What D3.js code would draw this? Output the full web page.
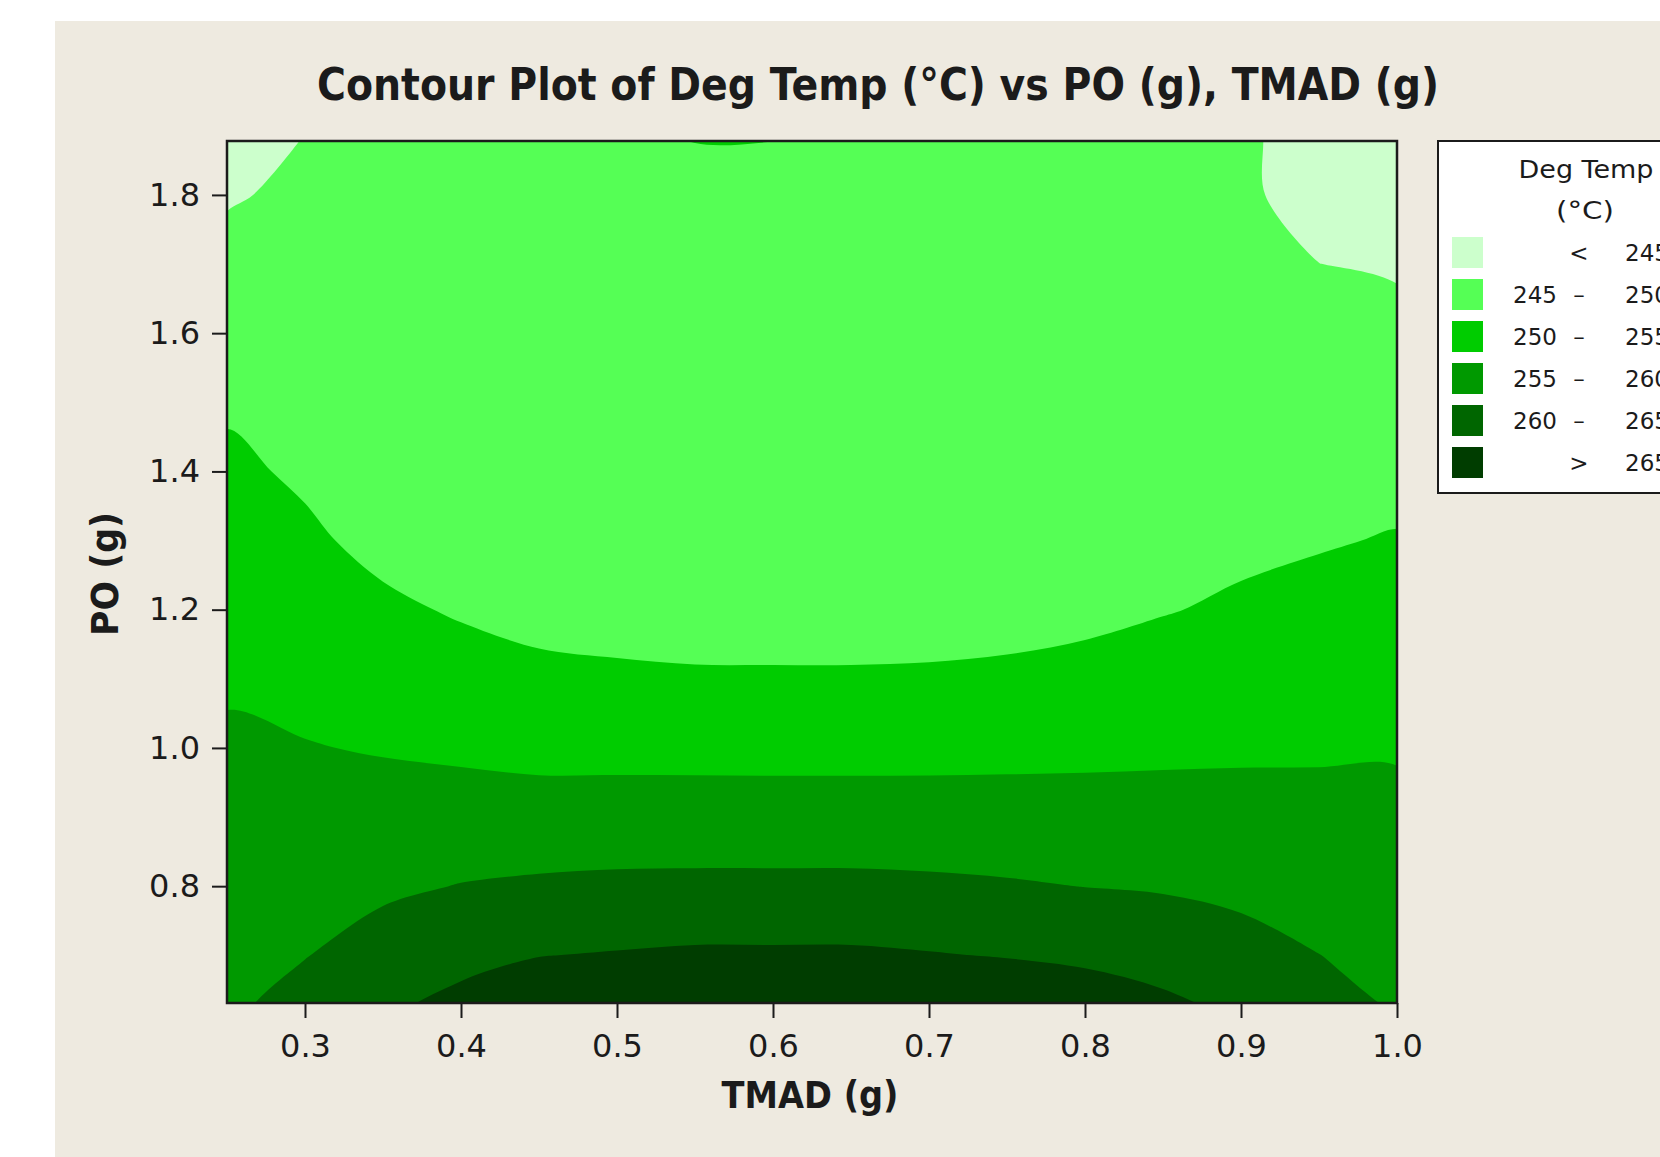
<!DOCTYPE html>
<html>
<head>
<meta charset="utf-8">
<script src="https://cdn.jsdelivr.net/npm/d3@7"></script>
<style>
  body { margin: 0; background: #ffffff; }
  text { font-family: "DejaVu Sans", Verdana, sans-serif; fill: #1b1b1b; }
</style>
</head>
<body>
<svg id="chart" width="1660" height="1157"></svg>
<script>
// fitted Deg Temp (°C) on a TMAD x PO grid
const tmadValues = [0.25, 0.30, 0.35, 0.40, 0.45, 0.50, 0.55, 0.60, 0.65, 0.70, 0.75, 0.80, 0.85, 0.90, 0.95, 1.00];
const poValues = [0.6, 0.7, 0.8, 0.9, 1.0, 1.1, 1.2, 1.3, 1.4, 1.5, 1.6, 1.7, 1.8, 1.9];
// one row per PO value, one column per TMAD value
const degTemp = [
  [259.4, 262.3, 264.7, 267.0, 268.8, 270.0, 271.0, 271.5, 271.5, 271.0, 270.0, 268.8, 266.9, 265.0, 262.5, 260.2],
  [258.4, 259.85, 262.0, 263.8, 264.9, 265.3, 265.7, 265.7, 265.7, 265.27, 264.78, 264.12, 263.19, 261.74, 260.04, 258.8],
  [257.5, 258.3, 259.2, 260.15, 260.65, 260.95, 261.03, 261.03, 261.03, 260.8, 260.43, 259.94, 259.6, 258.9, 258.17, 257.4],
  [256.5, 256.8, 256.9, 257.1, 257.0, 257.07, 257.07, 257.07, 257.07, 257.0, 256.94, 256.85, 256.78, 256.57, 256.3, 256.0],
  [255.6, 255.2, 254.7, 254.2, 253.7, 253.67, 253.65, 253.6, 253.6, 253.67, 253.8, 253.96, 254.17, 254.37, 254.5, 254.65],
  [254.5, 253.7, 252.7, 251.8, 250.7, 250.45, 250.3, 250.3, 250.3, 250.36, 250.54, 250.9, 251.9, 252.47, 252.87, 253.2],
  [253.3, 252.2, 250.75, 249.6, 249.1, 248.95, 248.85, 248.8, 248.8, 248.85, 249.0, 249.3, 249.8, 250.57, 251.23, 251.7],
  [252.0, 250.7, 248.9, 248.5, 248.2, 248.0, 247.9, 247.85, 247.85, 247.9, 248.0, 248.2, 248.7, 249.2, 249.7, 250.25],
  [250.8, 249.4, 248.0, 247.8, 247.6, 247.45, 247.35, 247.3, 247.3, 247.35, 247.35, 247.4, 247.8, 248.1, 248.54, 248.8],
  [249.5, 248.5, 247.5, 247.4, 247.3, 247.2, 247.15, 247.1, 247.1, 247.1, 247.0, 246.9, 247.1, 247.2, 247.37, 247.4],
  [247.9, 247.6, 247.1, 247.2, 247.2, 247.2, 247.25, 247.2, 247.15, 247.05, 246.9, 246.65, 246.6, 246.5, 246.2, 246.0],
  [246.3, 246.7, 246.9, 247.2, 247.4, 247.5, 247.7, 247.65, 247.55, 247.3, 247.0, 246.6, 246.3, 245.9, 245.02, 244.6],
  [244.6, 245.8, 246.7, 247.4, 247.8, 248.2, 248.8, 248.8, 248.6, 248.1, 247.6, 246.9, 246.2, 245.45, 244.0, 243.2],
  [242.9, 244.9, 246.5, 247.8, 248.7, 249.5, 250.4, 250.35, 250.0, 249.2, 248.4, 247.4, 246.3, 245.5, 243.6, 241.8]
];
const levels = [245, 250, 255, 260, 265];
const xTicks = [0.3, 0.4, 0.5, 0.6, 0.7, 0.8, 0.9, 1.0];
const yTicks = [0.8, 1.0, 1.2, 1.4, 1.6, 1.8];
const xDomain = [0.25, 1.0];
const yDomain = [0.631, 1.878];

// band colours, lightest (< 245) to darkest (> 265)
const bandColors = ["#ccffcc", "#55ff55", "#00cc00", "#009900", "#006600", "#003d00"];

const plot = { left: 227, right: 1397, top: 141, bottom: 1003 };

const svg = d3.select("#chart");

// beige panel behind everything
svg.append("rect")
    .attr("x", 55).attr("y", 21)
    .attr("width", 1660 - 55).attr("height", 1157 - 21)
    .attr("fill", "#eeeae0");

const x = d3.scaleLinear().domain(xDomain).range([plot.left, plot.right]);
const y = d3.scaleLinear().domain(yDomain).range([plot.bottom, plot.top]);

svg.append("clipPath").attr("id", "plot-clip")
    .append("rect")
    .attr("x", plot.left).attr("y", plot.top)
    .attr("width", plot.right - plot.left).attr("height", plot.bottom - plot.top);

// contour bands
let contours = d3.contours()
    .size([tmadValues.length, poValues.length])
    .thresholds(levels)(degTemp.flat());

// grid index -> pixel (sample i sits at i + 0.5 in d3.contours space)
let gx = d3.scaleLinear().domain([0.5, tmadValues.length - 0.5])
    .range([x(tmadValues[0]), x(tmadValues[tmadValues.length - 1])]);
let gy = d3.scaleLinear().domain([0.5, poValues.length - 0.5])
    .range([y(poValues[0]), y(poValues[poValues.length - 1])]);

let ringLine = d3.line()
    .x(p => gx(p[0]))
    .y(p => gy(p[1]))
    .curve(d3.curveCatmullRomClosed.alpha(0.5));

function bandPath(mp) {
    return mp.coordinates
        .map(poly => poly.map(r => ringLine(r.slice(0, -1))).join(""))
        .join("");
}

let bands = svg.append("g").attr("clip-path", "url(#plot-clip)");

bands.append("rect")
    .attr("x", plot.left).attr("y", plot.top)
    .attr("width", plot.right - plot.left).attr("height", plot.bottom - plot.top)
    .attr("fill", bandColors[0]);

bands.selectAll("path.band")
    .data(contours)
    .enter().append("path")
    .attr("class", "band")
    .attr("d", d => bandPath(d))
    .attr("fill", (d, i) => bandColors[i + 1]);

// frame
svg.append("rect")
    .attr("x", plot.left).attr("y", plot.top)
    .attr("width", plot.right - plot.left).attr("height", plot.bottom - plot.top)
    .attr("fill", "none")
    .attr("stroke", "#1b1b1b")
    .attr("stroke-width", 2.5);

// axes
let xAxis = svg.append("g")
    .attr("transform", `translate(0,${plot.bottom})`)
    .call(d3.axisBottom(x).tickValues(xTicks).tickFormat(d3.format(".1f")).tickSize(15).tickPadding(16));
let yAxis = svg.append("g")
    .attr("transform", `translate(${plot.left},0)`)
    .call(d3.axisLeft(y).tickValues(yTicks).tickFormat(d3.format(".1f")).tickSize(15).tickPadding(12));

[xAxis, yAxis].forEach(a => {
    a.select(".domain").remove();
    a.selectAll(".tick line").attr("stroke", "#1b1b1b").attr("stroke-width", 2);
    a.selectAll(".tick text")
        .attr("fill", "#1b1b1b")
        .style("font-family", "'DejaVu Sans', Verdana, sans-serif")
        .style("font-size", "32px");
});

// titles
svg.append("text")
    .attr("x", 878).attr("y", 100)
    .attr("text-anchor", "middle")
    .attr("textLength", 1122).attr("lengthAdjust", "spacingAndGlyphs")
    .style("font-size", "44px").style("font-weight", "bold")
    .text("Contour Plot of Deg Temp (°C) vs PO (g), TMAD (g)");

svg.append("text")
    .attr("x", 810).attr("y", 1108)
    .attr("text-anchor", "middle")
    .attr("textLength", 177).attr("lengthAdjust", "spacingAndGlyphs")
    .style("font-size", "37px").style("font-weight", "bold")
    .text("TMAD (g)");

svg.append("text")
    .attr("transform", "translate(118,574) rotate(-90)")
    .attr("text-anchor", "middle")
    .attr("textLength", 124).attr("lengthAdjust", "spacingAndGlyphs")
    .style("font-size", "37px").style("font-weight", "bold")
    .text("PO (g)");

// legend (runs off the right edge, as in the original)
let legend = svg.append("g");
legend.append("rect")
    .attr("x", 1438).attr("y", 141)
    .attr("width", 300).attr("height", 352)
    .attr("fill", "#ffffff")
    .attr("stroke", "#1b1b1b")
    .attr("stroke-width", 2);

legend.append("text")
    .attr("x", 1586).attr("y", 178)
    .attr("text-anchor", "middle")
    .attr("textLength", 135).attr("lengthAdjust", "spacingAndGlyphs")
    .style("font-size", "24px")
    .text("Deg Temp");
legend.append("text")
    .attr("x", 1585).attr("y", 219)
    .attr("text-anchor", "middle")
    .attr("textLength", 58).attr("lengthAdjust", "spacingAndGlyphs")
    .style("font-size", "24px")
    .text("(°C)");

// rows: < first level, level ranges, > last level
let legendRows = [{ from: "", sign: "<", to: levels[0] }]
    .concat(d3.pairs(levels).map(([a, b]) => ({ from: a, sign: "–", to: b })))
    .concat([{ from: "", sign: ">", to: levels[levels.length - 1] }]);

let rowY = d3.scalePoint().domain(d3.range(legendRows.length)).range([252, 462]);

let rows = legend.selectAll("g.row")
    .data(legendRows)
    .enter().append("g")
    .attr("class", "row")
    .attr("transform", (d, i) => `translate(0,${rowY(i)})`);

rows.append("rect")
    .attr("x", 1452).attr("y", -15)
    .attr("width", 31).attr("height", 31)
    .attr("fill", (d, i) => bandColors[i]);
rows.append("text")
    .attr("x", 1557).attr("y", 9)
    .attr("text-anchor", "end")
    .style("font-size", "23px")
    .text(d => d.from);
rows.append("text")
    .attr("x", 1579).attr("y", 9)
    .attr("text-anchor", "middle")
    .style("font-size", "23px")
    .text(d => d.sign);
rows.append("text")
    .attr("x", 1625).attr("y", 9)
    .style("font-size", "23px")
    .text(d => d.to);
</script>
</body>
</html>
